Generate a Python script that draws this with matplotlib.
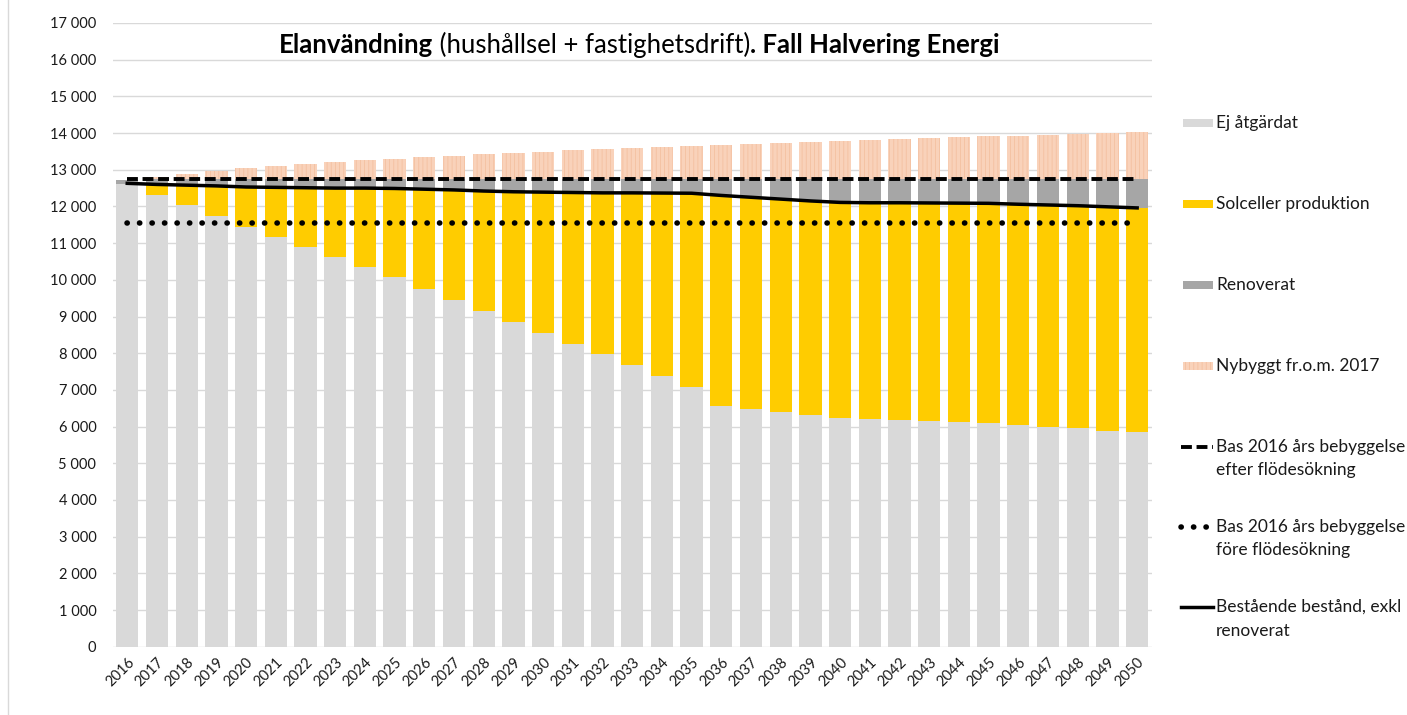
import matplotlib.pyplot as plt
import numpy as np
from matplotlib.lines import Line2D
from matplotlib.patches import Rectangle

plt.rcParams['font.family'] = ['Lato', 'DejaVu Sans']
plt.rcParams['hatch.linewidth'] = 0.6

YEARS = list(range(2016, 2051))

EJ_ATGARDAT = [12620, 12320, 12030, 11730, 11440, 11170, 10890, 10610, 10350,
               10070, 9760, 9460, 9160, 8840, 8550, 8260, 7970, 7680, 7390,
               7090, 6550, 6470, 6390, 6310, 6230, 6200, 6180, 6150, 6120,
               6090, 6050, 6000, 5950, 5890, 5850]
SOLCELLER = [0, 280, 550, 830, 1090, 1350, 1620, 1890, 2150, 2420, 2710, 2990,
             3260, 3560, 3840, 4120, 4400, 4690, 4975, 5270, 5750, 5780, 5810,
             5840, 5880, 5900, 5920, 5945, 5970, 5995, 6010, 6040, 6070, 6100,
             6110]
RENOVERAT = [110, 140, 160, 180, 210, 220, 230, 240, 240, 250, 270, 290, 320,
             340, 350, 360, 370, 370, 375, 380, 440, 490, 540, 590, 630, 640,
             640, 645, 650, 655, 680, 700, 720, 750, 780]
NYBYGGT = [0, 60, 150, 215, 295, 350, 415, 460, 515, 560, 595, 645, 680, 705,
           740, 785, 815, 840, 870, 905, 930, 970, 995, 1015, 1040, 1070, 1095,
           1125, 1140, 1170, 1185, 1215, 1230, 1260, 1295]

BAS_EFTER = 12740   # Bas 2016 efter flödesökning
BAS_FORE = 11550    # Bas 2016 före flödesökning
BESTAENDE = [12630, 12600, 12580, 12560, 12530, 12520, 12510, 12500, 12500,
             12490, 12470, 12450, 12420, 12400, 12390, 12380, 12370, 12370,
             12365, 12360, 12300, 12250, 12200, 12150, 12110, 12100, 12100,
             12095, 12090, 12085, 12060, 12040, 12020, 11990, 11960]

C_EJ = '#d9d9d9'
C_SOL = '#ffcc00'
C_REN = '#a6a6a6'
C_NY = '#f9d2ba'
C_NY_HATCH = '#f4c0a0'
TXT = '#1a1a1a'

DASHED = dict(lw=2.8, linestyle=(0, (2.8, 1.2)))
DOTTED = dict(lw=4.0, linestyle=(0, (0.05, 2.2)), dash_capstyle='round')
SOLID = dict(lw=2.5)

W, H = 1407, 715
fig = plt.figure(figsize=(W / 100, H / 100), dpi=100)
ax = fig.add_axes([113 / W, 1 - 646.7 / H, (1152 - 113) / W, (646.7 - 23) / H])

x = np.arange(len(YEARS))
ej = np.array(EJ_ATGARDAT)
sol = np.array(SOLCELLER)
ren = np.array(RENOVERAT)
ny = np.array(NYBYGGT)

bw = 0.75
ax.bar(x, ej, bw, color=C_EJ, zorder=2)
ax.bar(x, sol, bw, bottom=ej, color=C_SOL, zorder=2)
ax.bar(x, ren, bw, bottom=ej + sol, color=C_REN, zorder=2)
ax.bar(x, ny, bw, bottom=ej + sol + ren, color=C_NY, edgecolor=C_NY_HATCH,
       hatch='||||', linewidth=0, zorder=2)

ax.plot(x, [BAS_EFTER] * len(x), color='black', zorder=4, **DASHED)
ax.plot(x, [BAS_FORE] * len(x), color='black', zorder=4, **DOTTED)
ax.plot(x, BESTAENDE, color='black', zorder=5, **SOLID)

ax.set_xlim(-0.48, len(x) - 0.5)
ax.set_ylim(0, 17000)
ax.set_yticks(range(0, 17001, 1000))
ax.set_yticklabels([f"{v:,}".replace(",", " ") for v in range(0, 17001, 1000)],
                   fontsize=10.5)
ax.set_xticks(x)
ax.set_xticklabels([str(y) for y in YEARS], rotation=45, ha='right',
                   rotation_mode='anchor', fontsize=10.5)
ax.tick_params(axis='both', length=0, colors=TXT)
ax.tick_params(axis='y', pad=12)
ax.tick_params(axis='x', pad=6)
ax.grid(axis='y', color='#d9d9d9', lw=1, zorder=0)
ax.set_axisbelow(True)
for s in ax.spines.values():
    s.set_visible(False)

# title with mixed weights
r = fig.canvas.get_renderer()
parts = [("Elanvändning", 'bold'), (" (hushållsel + fastighetsdrift)", 'normal'),
         (". Fall Halvering Energi", 'bold')]
texts = []
total = 0
for s, wgt in parts:
    t = fig.text(0, 1 - 45 / H, s, fontsize=18.5, fontweight=wgt, va='center',
                 color='black')
    bb = t.get_window_extent(renderer=r)
    texts.append((t, bb.width))
    total += bb.width
xpos = 639 - total / 2
for t, wd in texts:
    t.set_x(xpos / W)
    xpos += wd

# legend drawn by hand
fs = 12.5
patch_items = [("Ej åtgärdat", C_EJ, 123), ("Solceller produktion", C_SOL, 204),
               ("Renoverat", C_REN, 285), ("Nybyggt fr.o.m. 2017", C_NY, 366)]
for label, col, yy in patch_items:
    kw = {}
    if col == C_NY:
        kw = dict(hatch='||||', edgecolor=C_NY_HATCH, linewidth=0)
    fig.add_artist(Rectangle((1183 / W, 1 - (yy + 4) / H), 30 / W, 8 / H,
                             facecolor=col, transform=fig.transFigure, **kw))
    fig.text(1216 / W, 1 - yy / H, label, fontsize=fs, va='center', color=TXT)

line_items = [(["Bas 2016 års bebyggelse", "efter flödesökning"], 447, DASHED),
              (["Bas 2016 års bebyggelse", "före flödesökning"], 527, DOTTED),
              (["Bestående bestånd, exkl", "renoverat"], 607, SOLID)]
for lines, yy, kw in line_items:
    fig.add_artist(Line2D([1181 / W, 1213 / W], [1 - yy / H, 1 - yy / H],
                          color='black', transform=fig.transFigure, **kw))
    for i, txt in enumerate(lines):
        fig.text(1216 / W, 1 - (yy + 23.5 * i) / H, txt, fontsize=fs,
                 va='center', color=TXT)

# chart border on the left
fig.add_artist(Line2D([8 / W, 8 / W], [0, 1], color='#d9d9d9', lw=1,
                      transform=fig.transFigure))

fig.savefig('out.png', dpi=100)
